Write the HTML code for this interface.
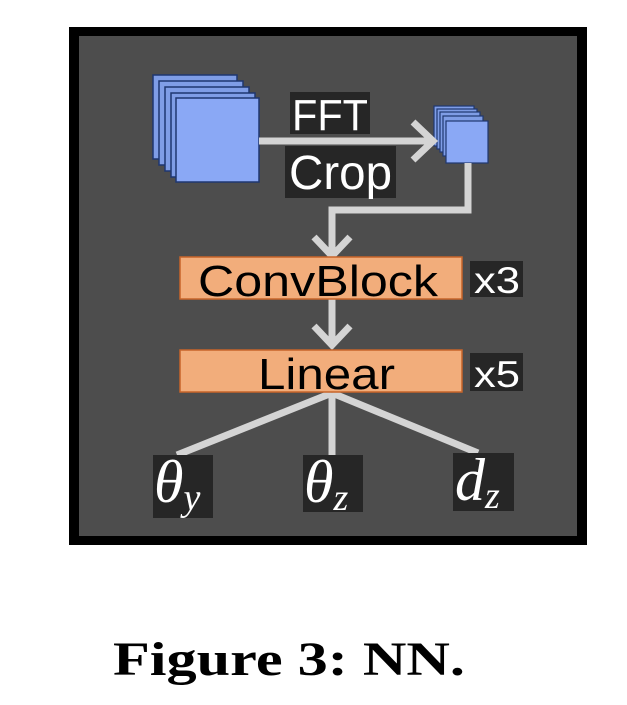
<!DOCTYPE html>
<html><head><meta charset="utf-8"><style>
html,body{margin:0;padding:0;background:#fff;}
svg{display:block}
</style></head><body>
<svg width="627" height="705" viewBox="0 0 627 705" xmlns="http://www.w3.org/2000/svg">
<rect x="0" y="0" width="627" height="705" fill="#fff"/>
<rect x="69" y="27" width="518" height="518" fill="#000"/>
<rect x="79" y="36" width="498" height="500" fill="#4d4d4d"/>
<g stroke="#1f3770" stroke-width="1.5" fill="#7f9de6">
<rect x="153" y="75" width="84" height="84"/>
<rect x="159" y="81" width="84" height="84"/>
<rect x="165" y="87" width="84" height="84"/>
<rect x="171" y="93" width="84" height="84"/>
<rect x="176" y="98" width="83" height="84" fill="#8aa8f5"/>
</g>
<g stroke="#1f3770" stroke-width="1.2" fill="#7f9de6">
<rect x="434" y="106" width="40" height="40"/>
<rect x="437" y="109" width="40" height="40"/>
<rect x="440" y="112" width="40" height="40"/>
<rect x="443" y="116" width="40" height="40"/>
<rect x="446" y="121" width="42" height="42" fill="#8aa8f5"/>
</g>
<g stroke="#d4d4d4" stroke-width="7" fill="none">
<line x1="259" y1="141" x2="432" y2="141"/>
<polyline points="413,122 433,141 413,160"/>
<polyline points="468,163 468,210 332,210 332,258"/>
<polyline points="314,237 332,256 350,237"/>
<line x1="332" y1="299" x2="332" y2="345"/>
<polyline points="314,326 332,345 350,326"/>
<line x1="332" y1="393" x2="177" y2="455"/>
<line x1="332" y1="393" x2="332" y2="455"/>
<line x1="332" y1="393" x2="478" y2="453"/>
</g>
<rect x="290" y="92" width="80" height="42" fill="#262626"/>
<text x="292" y="130" font-family="Liberation Sans, sans-serif" font-size="44" fill="#fff" textLength="76" lengthAdjust="spacingAndGlyphs">FFT</text>
<rect x="285" y="146" width="111" height="52" fill="#262626"/>
<text x="289" y="189" font-family="Liberation Sans, sans-serif" font-size="48" fill="#fff" textLength="103" lengthAdjust="spacingAndGlyphs">Crop</text>
<rect x="180" y="257" width="282" height="42" fill="#f2ad7b" stroke="#c8652a" stroke-width="1.5"/>
<text x="198" y="296" font-family="Liberation Sans, sans-serif" font-size="44" fill="#000" textLength="240" lengthAdjust="spacingAndGlyphs">ConvBlock</text>
<rect x="470" y="261" width="53" height="36" fill="#262626"/>
<text x="474" y="293" font-family="Liberation Sans, sans-serif" font-size="37" fill="#fff" textLength="46" lengthAdjust="spacingAndGlyphs">x3</text>
<rect x="180" y="350" width="282" height="42" fill="#f2ad7b" stroke="#c8652a" stroke-width="1.5"/>
<text x="258" y="389" font-family="Liberation Sans, sans-serif" font-size="44" fill="#000" textLength="137" lengthAdjust="spacingAndGlyphs">Linear</text>
<rect x="470" y="353" width="53" height="38" fill="#262626"/>
<text x="474" y="387" font-family="Liberation Sans, sans-serif" font-size="37" fill="#fff" textLength="46" lengthAdjust="spacingAndGlyphs">x5</text>
<rect x="153" y="455" width="60" height="63" fill="#262626"/>
<text x="154" y="502" font-family="Liberation Serif, serif" font-style="italic" font-size="60" fill="#fff">θ<tspan font-size="38" dy="8">y</tspan></text>
<rect x="303" y="455" width="60" height="57" fill="#262626"/>
<text x="304" y="502" font-family="Liberation Serif, serif" font-style="italic" font-size="60" fill="#fff">θ<tspan font-size="38" dy="8">z</tspan></text>
<rect x="453" y="453" width="61" height="58" fill="#262626"/>
<text x="455" y="500" font-family="Liberation Serif, serif" font-style="italic" font-size="60" fill="#fff">d<tspan font-size="38" dy="8">z</tspan></text>
<text x="113" y="675" font-family="Liberation Serif, serif" font-weight="bold" font-size="48" fill="#000" textLength="352" lengthAdjust="spacingAndGlyphs">Figure 3: NN.</text>
</svg>
</body></html>
